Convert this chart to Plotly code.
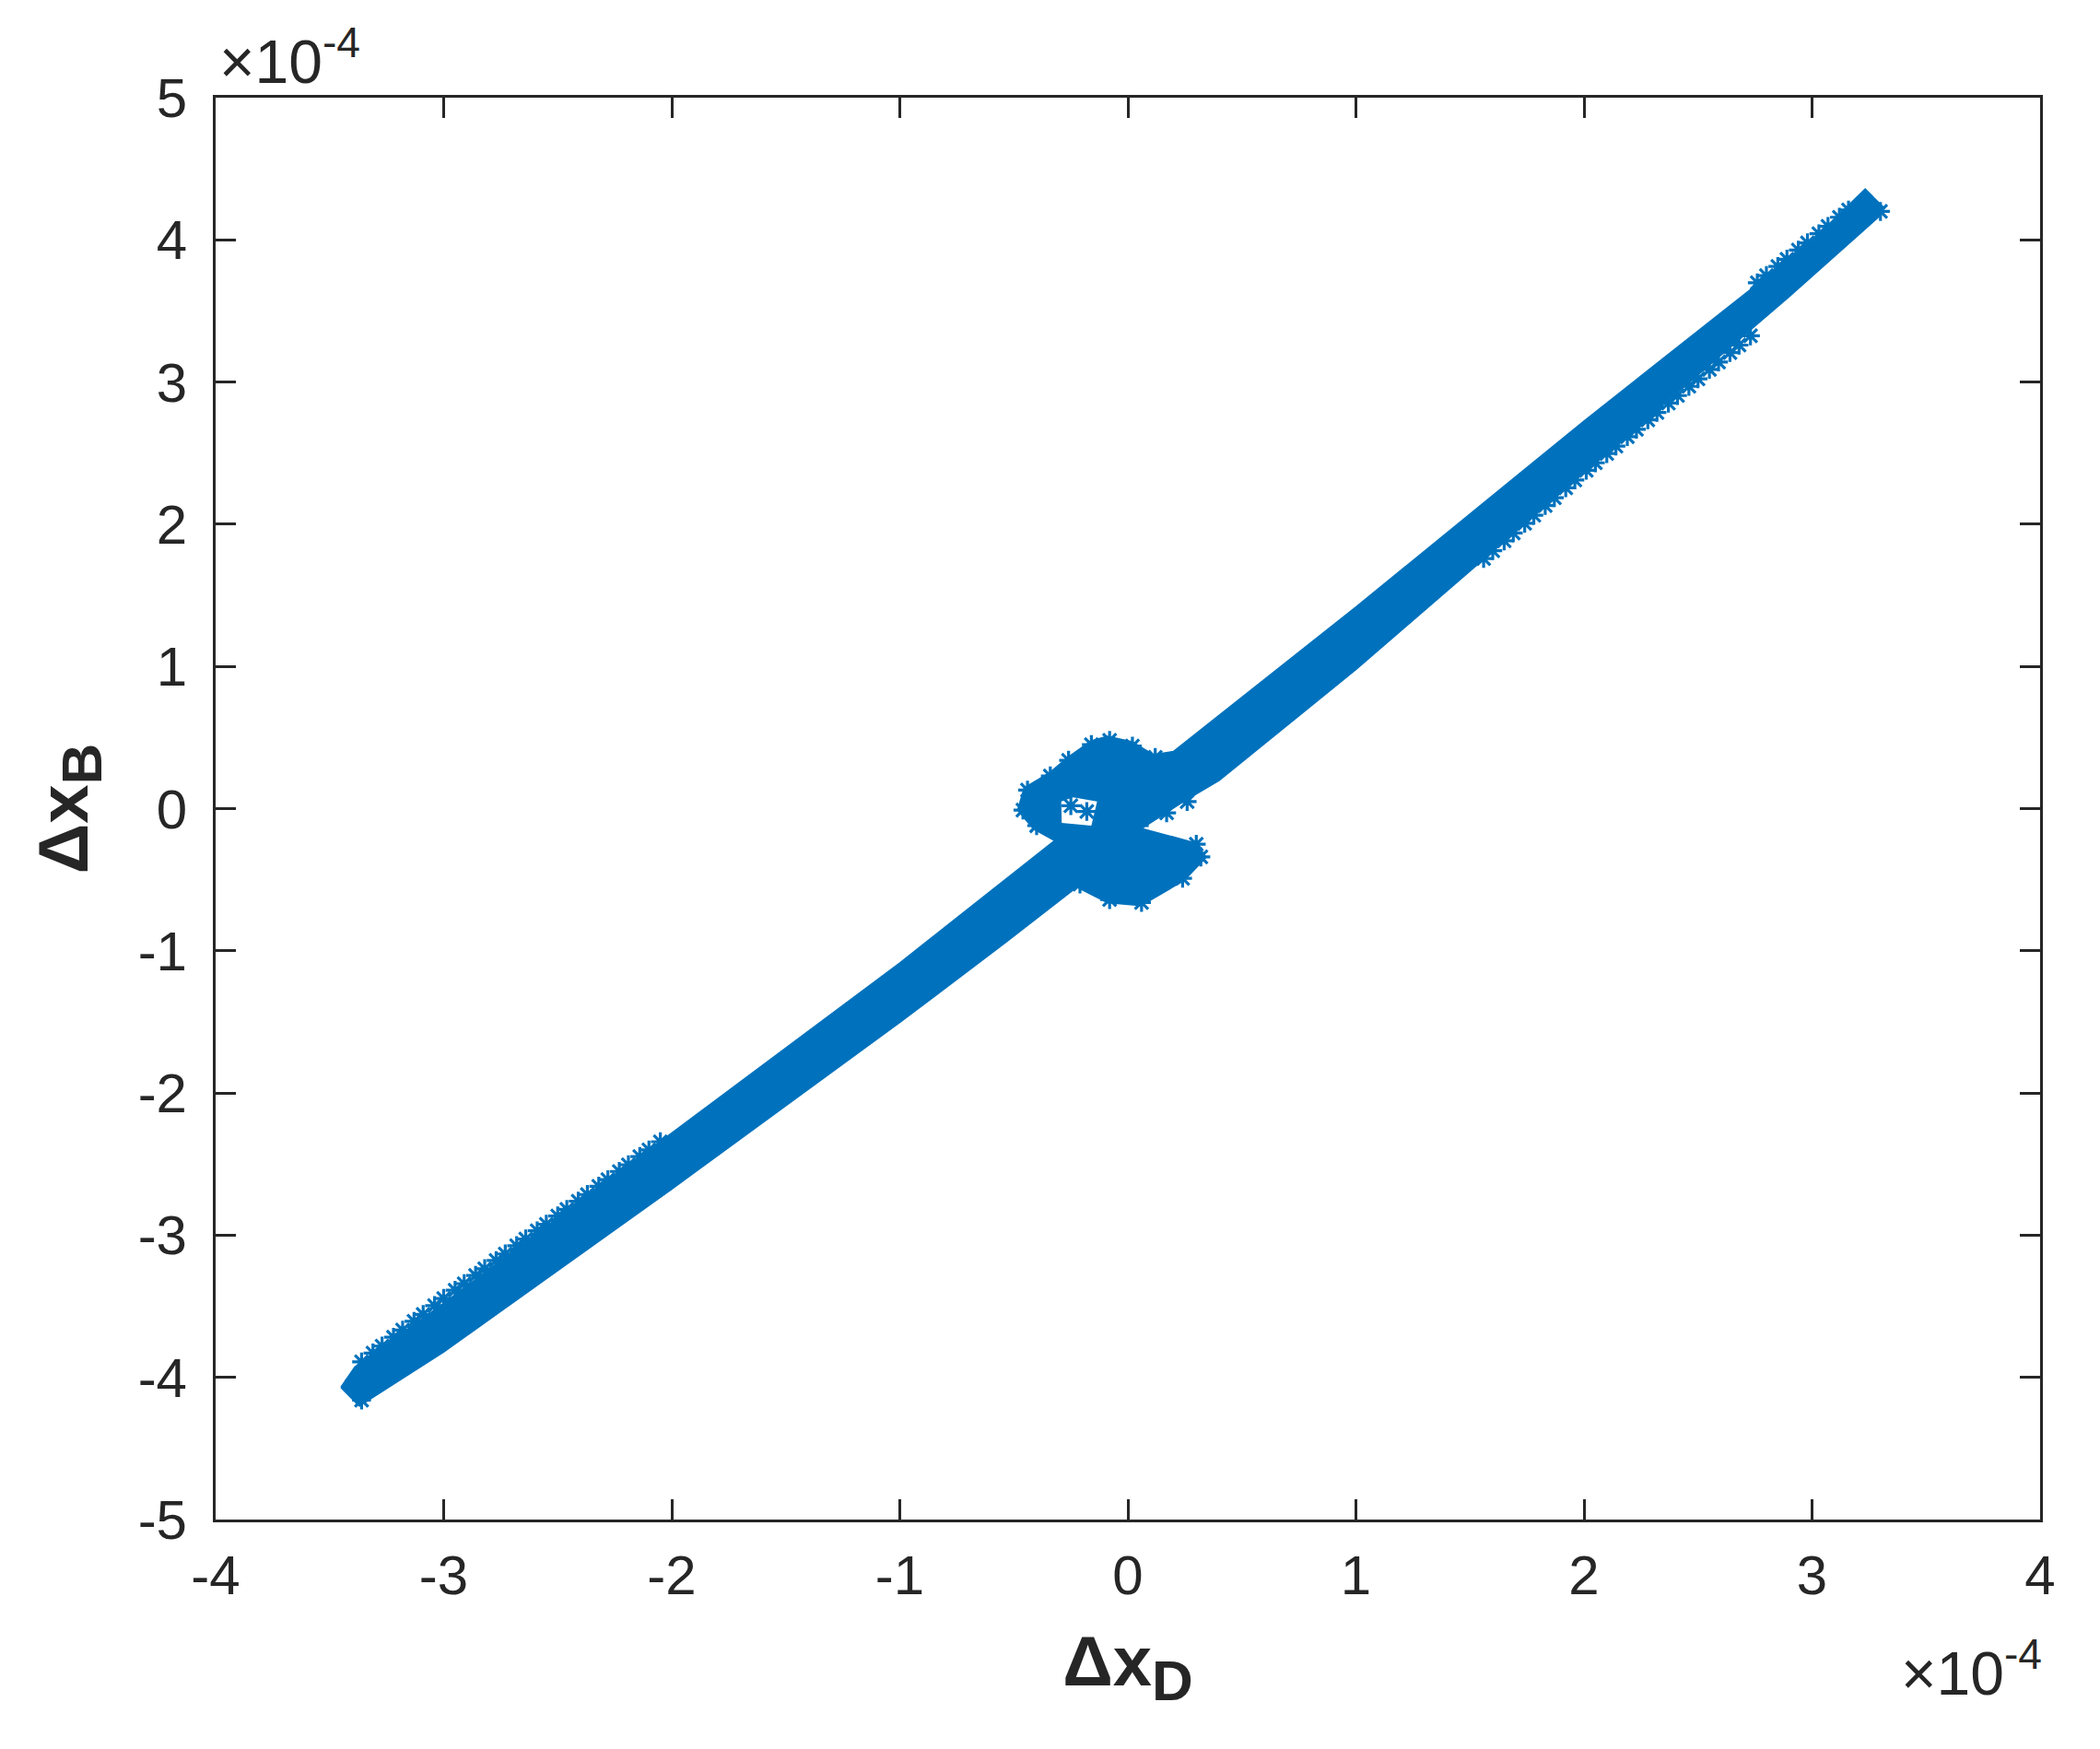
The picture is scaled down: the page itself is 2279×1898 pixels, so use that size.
import plotly.graph_objects as go

# Values are in units of 1e-4 (axis exponent shown as x10^-4)
# Outline of the dense band of asterisk points (upper path left->right, then lower path right->left)
band_x = [-3.45, -3.39, -3.0, -2.0, -1.0, -0.32,
          -0.414, -0.482, -0.454, -0.345, -0.264, -0.16, -0.09, 0.018, 0.111,
          0.20, 1.0, 2.0, 3.0, 3.233, 3.314,
          3.29, 2.898, 2.0, 1.0, 0.40, 0.245, 0.058,
          0.30, 0.342, 0.245, 0.058, -0.09, -0.224,
          -0.535, -1.0, -2.0, -3.0, -3.37, -3.45]
band_y = [-4.07, -3.93, -3.48, -2.285, -1.087, -0.225,
          -0.14, -0.01, 0.144, 0.248, 0.358, 0.475, 0.507, 0.468, 0.378,
          0.40, 1.416, 2.724, 3.99, 4.355, 4.226,
          4.16, 3.60, 2.366, 0.98, 0.20, 0.053, -0.14,
          -0.245, -0.343, -0.505, -0.68, -0.66, -0.55,
          -0.938, -1.502, -2.674, -3.82, -4.20, -4.07]

# Small empty pocket inside the upper-left loop
hole_x = [-0.292, -0.24, -0.135, -0.16, -0.29]
hole_y = [0.05, 0.08, 0.05, -0.12, -0.10]

# Individual asterisk points visible on the edges of the band
edge_ul_x = [-3.36, -3.31, -3.27, -3.22, -3.18, -3.13, -3.09, -3.04, -3.00, -2.95, -2.91,
             -2.86, -2.82, -2.77, -2.73, -2.68, -2.64, -2.59, -2.55, -2.50, -2.46, -2.41,
             -2.37, -2.32, -2.28, -2.23, -2.19, -2.14, -2.10, -2.05]
edge_ul_y = [-3.891, -3.829, -3.780, -3.718, -3.668, -3.606, -3.557, -3.495, -3.445, -3.387,
             -3.341, -3.283, -3.236, -3.178, -3.132, -3.074, -3.027, -2.969, -2.923, -2.865,
             -2.819, -2.761, -2.714, -2.656, -2.610, -2.552, -2.505, -2.447, -2.401, -2.343]
edge_lr_x = [1.56, 1.60, 1.65, 1.69, 1.74, 1.78, 1.83, 1.87, 1.92, 1.96, 2.01, 2.05, 2.10,
             2.14, 2.19, 2.23, 2.28, 2.32, 2.37, 2.41, 2.46, 2.50, 2.55, 2.59, 2.64, 2.68, 2.73]
edge_lr_y = [1.759, 1.814, 1.883, 1.939, 2.007, 2.063, 2.132, 2.187, 2.256, 2.311, 2.379,
             2.432, 2.497, 2.550, 2.616, 2.668, 2.734, 2.786, 2.852, 2.905, 2.970, 3.023,
             3.089, 3.141, 3.207, 3.260, 3.325]
edge_ur_x = [2.76, 2.80, 2.85, 2.89, 2.94, 2.98, 3.03, 3.07, 3.12, 3.16, 3.24, 3.30]
edge_ur_y = [3.698, 3.749, 3.813, 3.864, 3.928, 3.979, 4.043, 4.095, 4.159, 4.210, 4.25, 4.20]
loop_x = [-0.40, -0.46, -0.44, -0.34, -0.26, -0.16, -0.08, 0.02, 0.12, 0.30, 0.32, 0.24,
          0.06, -0.08, -0.21, 0.05, 0.17, 0.26, -0.25, -0.18, -3.40, -3.36]
loop_y = [-0.12, -0.01, 0.13, 0.23, 0.34, 0.45, 0.48, 0.44, 0.36, -0.25, -0.34, -0.49,
          -0.66, -0.64, -0.53, -0.12, -0.03, 0.05, 0.02, -0.02, -4.06, -4.16]

x_ticks = [-4, -3, -2, -1, 0, 1, 2, 3, 4]
y_ticks = [-5, -4, -3, -2, -1, 0, 1, 2, 3, 4, 5]

BLUE = "#0072BD"
DARK = "#262626"
FONT = "Liberation Sans, Arial, sans-serif"

fig = go.Figure()
fig.add_trace(go.Scatter(x=band_x, y=band_y, mode="lines", fill="toself",
                         fillcolor=BLUE, line=dict(color=BLUE, width=2),
                         hoverinfo="skip", showlegend=False))
fig.add_trace(go.Scatter(x=hole_x, y=hole_y, mode="lines", fill="toself",
                         fillcolor="white", line=dict(color="white", width=0),
                         hoverinfo="skip", showlegend=False))
star = dict(symbol="asterisk-open", size=17, line=dict(color=BLUE, width=3.2), color=BLUE)
for xs, ys in [(edge_ul_x, edge_ul_y), (edge_lr_x, edge_lr_y), (edge_ur_x, edge_ur_y), (loop_x, loop_y)]:
    fig.add_trace(go.Scatter(x=xs, y=ys, mode="markers", marker=star,
                             showlegend=False, hoverinfo="skip"))

axis_common = dict(showgrid=False, zeroline=False, showline=True, linecolor=DARK,
                   linewidth=3, mirror="ticks", ticks="inside", ticklen=22,
                   tickwidth=3, tickcolor=DARK,
                   tickfont=dict(family=FONT, size=60, color=DARK))

fig.update_layout(
    width=2279, height=1898,
    margin=dict(l=226, r=73, t=98, b=257),
    plot_bgcolor="white", paper_bgcolor="white",
    xaxis=dict(range=[-4, 4], tickvals=x_ticks, ticktext=[str(v) for v in x_ticks],
               ticklabelstandoff=6,
               title=dict(text="<b>Δx<sub><span style='font-size:62px'>D</span></sub></b>",
                          standoff=34, font=dict(family=FONT, size=76, color=DARK)),
               **axis_common),
    yaxis=dict(range=[-5, 5], tickvals=y_ticks, ticktext=[str(v) for v in y_ticks],
               ticklabelstandoff=16,
               title=dict(text="<b>Δx<sub><span style='font-size:62px'>B</span></sub></b>",
                          standoff=30, font=dict(family=FONT, size=76, color=DARK)),
               **axis_common),
    annotations=[
        dict(text="×10<sup>-4</sup>", xref="paper", yref="paper", x=0.0, y=1.0,
             xanchor="left", yanchor="bottom", yshift=0, xshift=2, showarrow=False,
             font=dict(family=FONT, size=66, color=DARK)),
        dict(text="×10<sup>-4</sup>", xref="paper", yref="paper", x=1.0, y=0.0,
             xanchor="right", yanchor="top", yshift=-118, xshift=4, showarrow=False,
             font=dict(family=FONT, size=66, color=DARK)),
    ],
)

fig.write_html("out.html")
